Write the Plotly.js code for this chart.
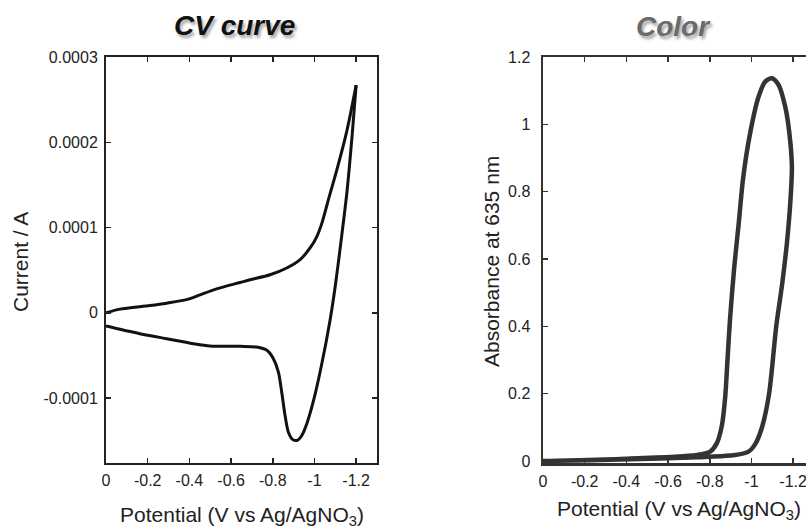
<!DOCTYPE html>
<html>
<head>
<meta charset="utf-8">
<script src="https://cdn.plot.ly/plotly-3.0.1.min.js"></script>
<style>
html,body{margin:0;padding:0;background:#fff;overflow:hidden;width:806px;height:529px;}
#chart{width:830px;height:529px;}
</style>
</head>
<body>
<div id="chart"></div>
<script>
// ---- CV curve data (potential V vs Ag/AgNO3, current A) ----
const cvFwdX = [0, -0.067, -0.211, -0.291, -0.395, -0.451, -0.531, -0.643, -0.691, -0.787, -0.867, -0.931, -0.979, -1.012, -1.036, -1.067, -1.110, -1.156, -1.200];
const cvFwdY = [0, 4.4e-6, 8.6e-6, 11.4e-6, 16.1e-6, 21.2e-6, 28.2e-6, 35.6e-6, 38.8e-6, 44.7e-6, 52.6e-6, 62.4e-6, 76.1e-6, 89.8e-6, 105.5e-6, 132.9e-6, 170e-6, 214e-6, 267e-6];
const cvRevX = [-1.200, -1.180, -1.156, -1.128, -1.099, -1.075, -1.032, -0.996, -0.964, -0.940, -0.918, -0.896, -0.875, -0.859, -0.843, -0.827, -0.803, -0.772, -0.723, -0.643, -0.499, -0.419, -0.291, -0.163, -0.067, 0];
const cvRevY = [267e-6, 206e-6, 142e-6, 85e-6, 30e-6, -8.2e-6, -63.5e-6, -102.4e-6, -129.4e-6, -143.5e-6, -149.4e-6, -148.6e-6, -140e-6, -120.4e-6, -93e-6, -69.4e-6, -53.8e-6, -43.9e-6, -40e-6, -39.2e-6, -38.8e-6, -36.1e-6, -30.3e-6, -24.4e-6, -19.2e-6, -15.3e-6];

// ---- Color (absorbance at 635 nm) data ----
const colFwdX = [0, -0.37, -0.738, -0.802, -0.834, -0.858, -0.874, -0.885, -0.897, -0.918, -0.938, -0.960, -0.994, -1.034, -1.066, -1.098, -1.130, -1.162, -1.182, -1.194];
const colFwdY = [0, 0.006, 0.018, 0.028, 0.053, 0.105, 0.190, 0.300, 0.420, 0.580, 0.700, 0.840, 0.975, 1.082, 1.127, 1.137, 1.117, 1.052, 0.973, 0.874];
const colRevX = [-1.186, -1.170, -1.146, -1.119, -1.085, -1.051, -1.018, -0.984, -0.898, -0.738, -0.418, 0];
const colRevY = [0.765, 0.647, 0.520, 0.401, 0.202, 0.101, 0.050, 0.027, 0.016, 0.011, 0.005, 0];

// ---- tick labels ----
const potTickVals = [0, -0.2, -0.4, -0.6, -0.8, -1, -1.2];
const potTickText = ["0", "-0.2", "-0.4", "-0.6", "-0.8", "-1", "-1.2"];
const curTickVals = [0.0003, 0.0002, 0.0001, 0, -0.0001];
const curTickText = ["0.0003", "0.0002", "0.0001", "0", "-0.0001"];
const absTickVals = [0, 0.2, 0.4, 0.6, 0.8, 1, 1.2];
const absTickText = ["0", "0.2", "0.4", "0.6", "0.8", "1", "1.2"];

const W = 830, H = 529;
const FONT = "Liberation Sans, Arial, Helvetica, sans-serif";
const px = v => v / W;
const py = v => 1 - v / H;

const traces = [
  {x: cvFwdX, y: cvFwdY, xaxis: 'x', yaxis: 'y', mode: 'lines',
   line: {color: '#111', width: 3, shape: 'spline', smoothing: 0.8}},
  {x: cvRevX, y: cvRevY, xaxis: 'x', yaxis: 'y', mode: 'lines',
   line: {color: '#111', width: 3, shape: 'spline', smoothing: 0.8}},
  {x: colFwdX.concat(colRevX), y: colFwdY.concat(colRevY), xaxis: 'x2', yaxis: 'y2', mode: 'lines',
   line: {color: '#333', width: 4.5, shape: 'spline', smoothing: 0.8}}
];

const axBase = {
  showline: true, mirror: 'ticks', linecolor: '#222', linewidth: 2,
  ticks: 'inside', ticklen: 5, tickwidth: 1.5, tickcolor: '#222',
  showgrid: false, zeroline: false, tickmode: 'array',
  tickfont: {family: FONT, size: 16, color: '#222'}
};
const yDom = [(H - 463) / H, (H - 57) / H];

const layout = {
  width: W, height: H,
  margin: {l: 0, r: 0, t: 0, b: 0},
  paper_bgcolor: '#fff', plot_bgcolor: '#fff',
  showlegend: false,
  xaxis: Object.assign({}, axBase, {domain: [px(106), px(377)], range: [0, -1.3], anchor: 'y',
    tickvals: potTickVals, ticktext: potTickText, ticklabelstandoff: 2}),
  yaxis: Object.assign({}, axBase, {domain: yDom, range: [-0.000176, 0.0003], anchor: 'x',
    tickvals: curTickVals, ticktext: curTickText, ticklabelstandoff: 3}),
  xaxis2: Object.assign({}, axBase, {domain: [px(543), px(814)], range: [0, -1.3], anchor: 'y2',
    linecolor: '#333', tickcolor: '#333', linewidth: 2.5,
    tickvals: potTickVals, ticktext: potTickText, ticklabelstandoff: 2}),
  yaxis2: Object.assign({}, axBase, {domain: yDom, range: [-0.006, 1.2], anchor: 'x2',
    linecolor: '#333', tickcolor: '#333', linewidth: 2.5,
    tickvals: absTickVals, ticktext: absTickText, ticklabelstandoff: 7}),
  annotations: [
    {text: '<b><i>CV curve</i></b>', xref: 'paper', yref: 'paper', x: px(234), y: py(25),
     xanchor: 'center', yanchor: 'middle', showarrow: false,
     font: {family: FONT, size: 28, color: '#111', shadow: '2px 3px 3px rgba(0,0,0,0.35)'}},
    {text: '<b><i>Color</i></b>', xref: 'paper', yref: 'paper', x: px(673), y: py(26),
     xanchor: 'center', yanchor: 'middle', showarrow: false,
     font: {family: FONT, size: 28, color: '#6b6b6b', shadow: '2px 3px 3px rgba(0,0,0,0.35)'}},
    {text: 'Current / A', xref: 'paper', yref: 'paper', x: px(20), y: py(262),
     xanchor: 'center', yanchor: 'middle', textangle: -90, showarrow: false,
     font: {family: FONT, size: 21, color: '#222'}},
    {text: 'Absorbance at 635 nm', xref: 'paper', yref: 'paper', x: px(491), y: py(262),
     xanchor: 'center', yanchor: 'middle', textangle: -90, showarrow: false,
     font: {family: FONT, size: 21, color: '#222'}},
    {text: 'Potential (V vs Ag/AgNO<sub>3</sub>)', xref: 'paper', yref: 'paper', x: px(242), y: py(516),
     xanchor: 'center', yanchor: 'middle', showarrow: false,
     font: {family: FONT, size: 21, color: '#222'}},
    {text: 'Potential (V vs Ag/AgNO<sub>3</sub>)', xref: 'paper', yref: 'paper', x: px(679), y: py(510),
     xanchor: 'center', yanchor: 'middle', showarrow: false,
     font: {family: FONT, size: 21, color: '#222'}}
  ]
};

Plotly.newPlot('chart', traces, layout, {staticPlot: true, displayModeBar: false});
</script>
</body>
</html>
